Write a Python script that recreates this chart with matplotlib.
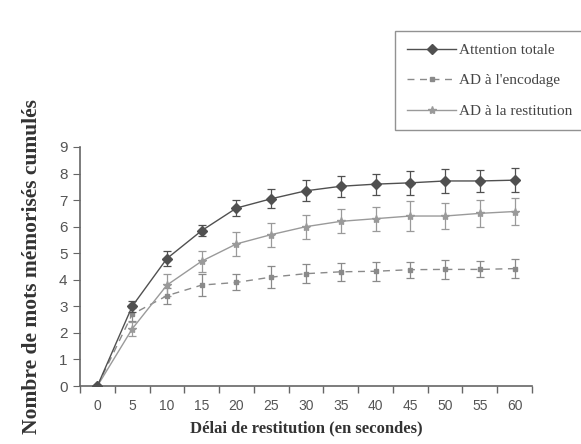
import matplotlib
matplotlib.use("Agg")
import matplotlib.pyplot as plt
from matplotlib.lines import Line2D

delais = [0, 5, 10, 15, 20, 25, 30, 35, 40, 45, 50, 55, 60]
attention_totale = [0, 3.0, 4.8, 5.85, 6.7, 7.05, 7.35, 7.52, 7.6, 7.65, 7.72, 7.72, 7.75]
attention_err = [0, 0.2, 0.3, 0.2, 0.3, 0.35, 0.4, 0.4, 0.4, 0.45, 0.45, 0.4, 0.45]
ad_encodage = [0, 2.7, 3.4, 3.8, 3.9, 4.1, 4.23, 4.3, 4.32, 4.38, 4.39, 4.39, 4.42]
encodage_err = [0, 0.25, 0.3, 0.4, 0.3, 0.4, 0.35, 0.35, 0.35, 0.3, 0.35, 0.3, 0.35]
ad_restitution = [0, 2.15, 3.8, 4.7, 5.35, 5.7, 6.0, 6.2, 6.3, 6.4, 6.4, 6.5, 6.57]
restitution_err = [0, 0.25, 0.4, 0.4, 0.45, 0.45, 0.45, 0.45, 0.45, 0.55, 0.5, 0.5, 0.5]
series_labels = ["Attention totale", "AD à l'encodage", "AD à la restitution"]
yticks = list(range(0, 10))

fig = plt.figure(figsize=(5.81, 4.44), dpi=100)
ax = fig.add_axes([0.1377, 0.1306, 0.778, 0.5384])

c_att = "#505050"
c_enc = "#8a8a8a"
c_res = "#9a9a9a"

ax.errorbar(delais, attention_totale, yerr=attention_err, color=c_att, marker="D",
            markersize=5, lw=1.0, capsize=3, elinewidth=0.9, capthick=0.9, zorder=4)
ax.errorbar(delais, ad_encodage, yerr=encodage_err, color=c_enc, marker="s",
            markersize=3.5, lw=1.0, ls=(0, (5, 4)), capsize=3, elinewidth=0.9,
            capthick=0.9, zorder=3)
ax.errorbar(delais, ad_restitution, yerr=restitution_err, color=c_res, marker="*",
            markersize=6, lw=1.0, capsize=3, elinewidth=0.9, capthick=0.9, zorder=3)

ax.set_xlim(-2.5, 62.5)
ax.set_ylim(0, 9)
ax.set_yticks(yticks)
ax.set_xticks(delais)
ax.set_xticks([d + 2.5 for d in [-5] + delais], minor=True)
ax.tick_params(axis="x", which="major", length=0, pad=9, labelsize=10, labelcolor="#555555")
ax.tick_params(axis="x", which="minor", length=5, direction="out", color="#666666", width=1)
ax.tick_params(axis="y", length=5, direction="out", color="#666666", labelsize=11,
               labelcolor="#555555", pad=4)
for lab in ax.get_xticklabels() + ax.get_yticklabels():
    lab.set_family("Liberation Sans")

for s in ["top", "right"]:
    ax.spines[s].set_visible(False)
for s in ["left", "bottom"]:
    ax.spines[s].set_color("#666666")
    ax.spines[s].set_linewidth(1.2)

ax.set_xlabel("Délai de restitution (en secondes)", family="Liberation Serif",
              fontweight="bold", fontsize=12, color="#333333", labelpad=6)
fig.text(0.055, 0.40, "Nombre de mots mémorisés cumulés", rotation=90,
         family="Liberation Serif", fontweight="bold", fontsize=15.5, color="#333333",
         ha="center", va="center")

handles = [
    Line2D([], [], color=c_att, marker="D", markersize=5, lw=1.0),
    Line2D([], [], color=c_enc, marker="s", markersize=3.5, lw=1.0, ls=(0, (5, 4))),
    Line2D([], [], color=c_res, marker="*", markersize=6, lw=1.0),
]
leg = fig.legend(handles, series_labels, loc="upper left",
                 bbox_to_anchor=(0.68, 0.93), frameon=True, fancybox=False,
                 edgecolor="#777777", prop={"family": "Liberation Serif", "size": 11},
                 labelspacing=1.1, handlelength=3.2, handletextpad=0.2,
                 borderpad=0.8, borderaxespad=0)
for t in leg.get_texts():
    t.set_color("#444444")

fig.savefig("out.png", dpi=100)
